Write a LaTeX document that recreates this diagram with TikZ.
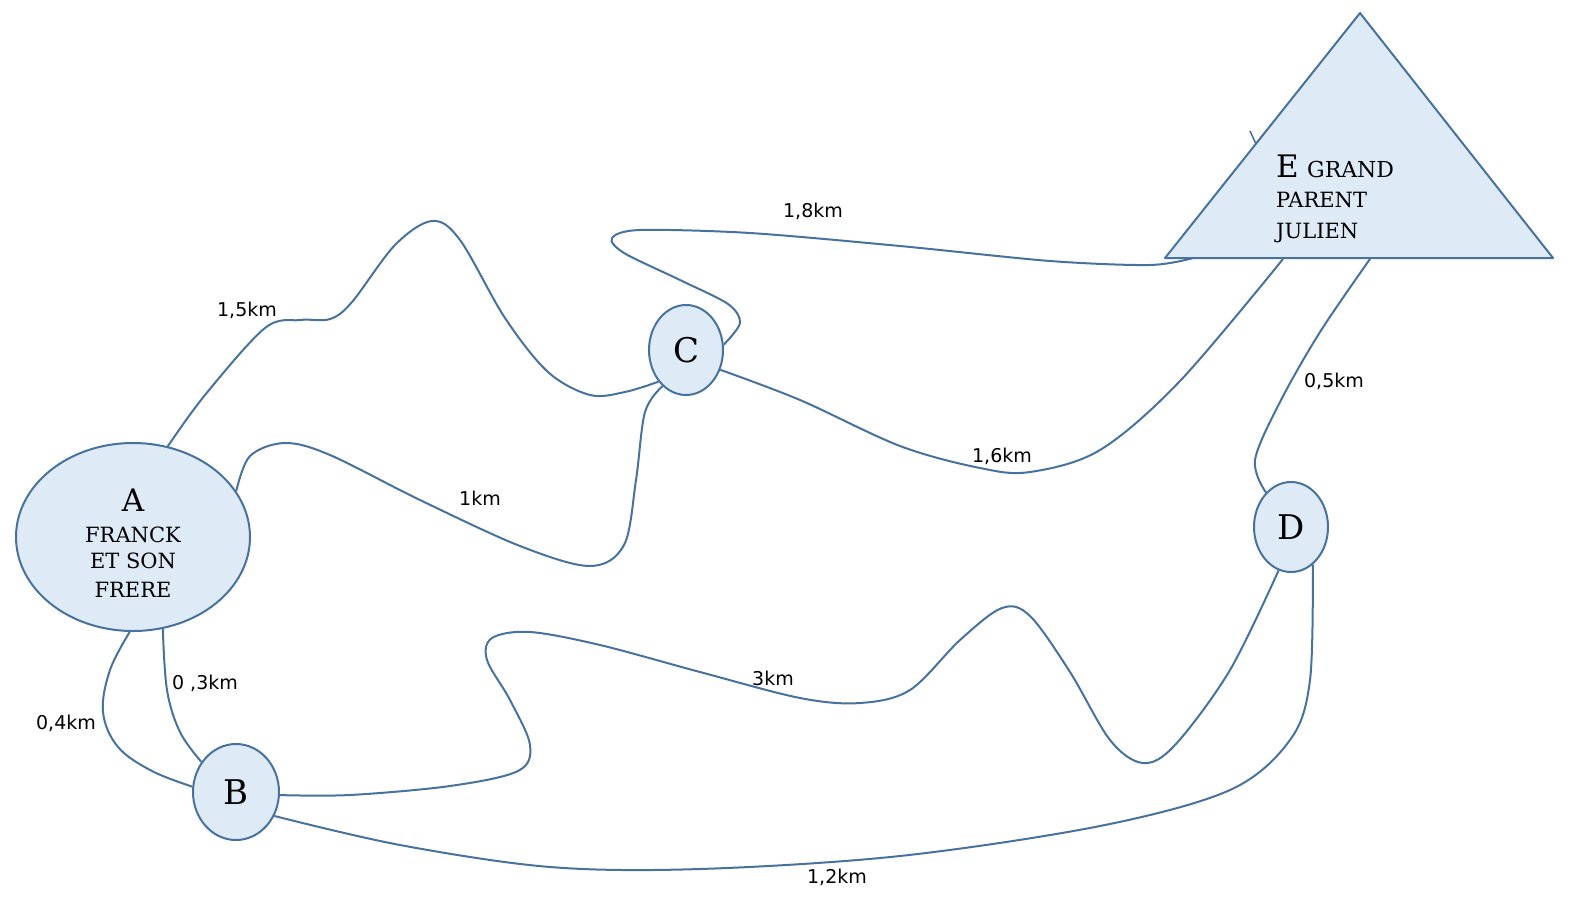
\documentclass[tikz,border=0pt]{standalone}
\usepackage{fontspec}
\setmainfont{DejaVu Serif}
\newfontfamily\lblfont{DejaVu Sans}
\usetikzlibrary{shapes.geometric}
\definecolor{edgeblue}{RGB}{72,114,158}
\definecolor{nodefill}{RGB}{222,234,246}
\begin{document}
\begin{tikzpicture}[x=1pt,y=-1pt,
  road/.style={draw=edgeblue,line width=2pt,line join=round},
  place/.style={ellipse,draw=edgeblue,fill=nodefill,line width=2pt,inner sep=0pt,
    font=\fontsize{34}{34}\selectfont},
  bigtxt/.style={font=\fontsize{31}{31}\selectfont,inner sep=0pt,anchor=base},
  smalltxt/.style={font=\fontsize{21}{21}\selectfont,inner sep=0pt,anchor=base},
  dist/.style={font=\lblfont\fontsize{19}{19}\selectfont,inner sep=1pt}]
\useasboundingbox (0,0) rectangle (1573,907);

% places
\node[place,minimum width=234pt,minimum height=188pt] (A) at (133,537) {};
\node[place,minimum width=86pt,minimum height=96pt] (B) at (236,792) {B};
\node[place,minimum width=74pt,minimum height=90pt] (C) at (686,350) {C};
\node[place,minimum width=74pt,minimum height=90pt] (D) at (1291,527) {D};

% grandparents' house
\coordinate (Etop) at (1360,13);
\coordinate (Eleft) at (1165,258);
\coordinate (Eright) at (1553,258);
\fill[nodefill] (Etop) -- (Eleft) -- (Eright) -- cycle;

% text of A
\node[bigtxt] (Aname) at (133,511) {A};
\node[smalltxt] (Al1) at (133,542) {FRANCK};
\node[smalltxt] (Al2) at (133,568) {ET SON};
\node[smalltxt] (Al3) at (133,597) {FRERE};

% text of E
\node[bigtxt,anchor=base west] (Ename) at (1276,177) {E};
\node[smalltxt,anchor=base west,font=\fontsize{22}{22}\selectfont] (El1) at (1307,177) {GRAND};
\node[smalltxt,anchor=base west] (El2) at (1276,207) {PARENT};
\node[smalltxt,anchor=base west] (El3) at (1276,238) {JULIEN};

% base points of E where roads arrive
\coordinate (E1) at (1193,258);
\coordinate (E2) at (1283,259);
\coordinate (E3) at (1370,259);

% roads
\draw[road] plot[smooth,tension=0.55] coordinates {(A.69) (205,395) (265,328) (300,320) (330,319) (352,302) (395,245) (432,221) (460,240) (505,318) (548,372) (590,395) (625,392) (C.-131)};
\draw[road] plot[smooth,tension=0.55] coordinates {(A.24) (250,456) (285,443) (330,455) (420,500) (520,546) (590,566) (624,545) (636,480) (645,412) (C.-123)};
\draw[road] plot[smooth,tension=0.5] coordinates {(C.8) (740,323) (728,304) (680,280) (624,253) (612,238) (640,230) (750,233) (900,246) (1050,261) (1150,265) (E1)};
\draw[road] plot[smooth,tension=0.55] coordinates {(C.-30) (800,400) (900,446) (980,468) (1030,472) (1100,450) (1180,381) (E2)};
\draw[road] plot[smooth,tension=0.55] coordinates {(E3) (1320,332) (1280,402) (1255,460) (D.126)};
\draw[road] plot[smooth,tension=0.55] coordinates {(B.-4) (350,795) (450,786) (518,771) (530,745) (510,700) (487,660) (492,638) (530,632) (600,645) (700,672) (800,698) (860,703) (910,690) (960,640) (1002,608) (1030,616) (1070,672) (1110,740) (1143,763) (1175,745) (1230,670) (D.-106)};
\draw[road] plot[smooth,tension=0.55] coordinates {(B.-32) (400,845) (550,867) (700,869) (900,856) (1100,826) (1230,790) (1290,740) (1310,680) (D.-60)};
\draw[road] plot[smooth,tension=0.6] coordinates {(A.-72) (167,690) (180,732) (B.139)};
\draw[road] plot[smooth,tension=0.6] coordinates {(A.-92) (110,670) (103,712) (118,747) (152,771) (B.173)};

% outline of E drawn over the road ends
\draw[road] (Etop) -- (Eleft) -- (Eright) -- cycle;
\coordinate (tickA) at (1250,131);
\coordinate (tickB) at (1256,144);
\draw[road,line width=1.6pt] (tickA) -- (tickB);

% distances
\node[dist] (d15) at (247,310) {1,5km};
\node[dist] (d10) at (480,498) {1km};
\node[dist] (d18) at (813,211) {1,8km};
\node[dist] (d16) at (1002,456) {1,6km};
\node[dist] (d05) at (1334,381) {0,5km};
\node[dist] (d30) at (773,678) {3km};
\node[dist] (d12) at (837,877) {1,2km};
\node[dist] (d03) at (205,683) {0 ,3km};
\node[dist] (d04) at (66,723) {0,4km};
\end{tikzpicture}
\end{document}
